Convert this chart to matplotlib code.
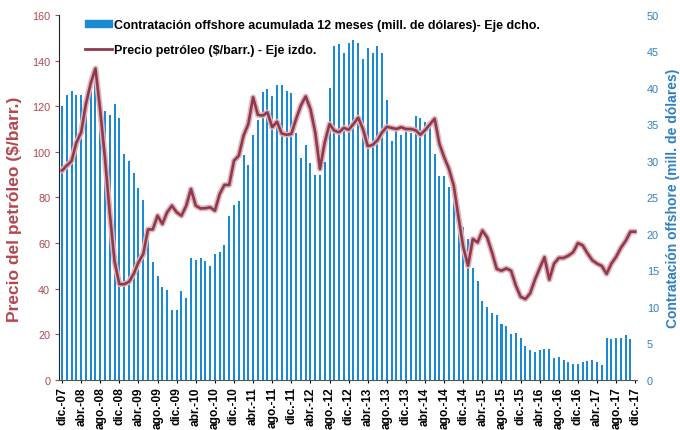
import numpy as np
import matplotlib.pyplot as plt
from matplotlib.patches import Patch
from matplotlib.lines import Line2D

plt.rcParams['font.family'] = ['Liberation Sans', 'DejaVu Sans']

# monthly series, dic.-07 .. dic.-17
tick_labels = ["dic.-07", "abr.-08", "ago.-08", "dic.-08", "abr.-09", "ago.-09",
               "dic.-09", "abr.-10", "ago.-10", "dic.-10", "abr.-11", "ago.-11",
               "dic.-11", "abr.-12", "ago.-12", "dic.-12", "abr.-13", "ago.-13",
               "dic.-13", "abr.-14", "ago.-14", "dic.-14", "abr.-15", "ago.-15",
               "dic.-15", "abr.-16", "ago.-16", "dic.-16", "abr.-17", "ago.-17",
               "dic.-17"]

# contratación offshore acumulada 12 meses (mill. de dólares) - eje dcho.
offshore = [37.5, 39.1, 39.6, 39.1, 39.0, 36.9, 39.9, 41.6, 38.3, 36.8,
            36.3, 37.8, 35.9, 30.9, 30.0, 28.4, 26.3, 24.7, 19.3, 16.2,
            14.2, 12.8, 12.3, 9.6, 9.6, 12.2, 11.2, 16.7, 16.4, 16.7,
            16.3, 15.6, 17.3, 17.6, 18.5, 22.5, 24.0, 24.5, 30.8, 29.4,
            33.6, 35.6, 39.4, 39.9, 38.9, 40.4, 40.4, 39.6, 39.3, 33.8,
            30.4, 32.2, 29.7, 28.1, 28.1, 29.8, 40.0, 45.7, 46.0, 44.8,
            46.2, 46.6, 46.2, 43.9, 45.5, 44.8, 45.8, 44.8, 38.3, 32.7,
            34.3, 33.6, 34.0, 33.8, 36.2, 35.9, 35.3, 35.4, 31.0, 27.9,
            27.9, 26.5, 24.4, 21.5, 20.9, 19.3, 15.3, 13.6, 10.8, 10.0,
            9.2, 8.9, 7.7, 7.4, 6.3, 6.4, 5.8, 4.6, 4.1, 3.8,
            4.1, 4.2, 4.2, 3.0, 3.2, 2.8, 2.4, 2.2, 2.2, 2.4,
            2.6, 2.7, 2.4, 2.1, 5.8, 5.6, 5.7, 5.8, 6.1, 5.6]

# precio petróleo ($/barr.) - eje izdo.
oil = [91.8, 94.0, 96.0, 104.0, 108.5, 121.0, 130.0, 136.5, 118.0, 97.0,
       73.0, 52.0, 42.0, 42.0, 43.0, 46.5, 51.6, 55.2, 66.0, 66.0,
       72.0, 68.4, 73.5, 76.4, 73.5, 72.0, 76.4, 83.7, 76.4, 75.2,
       75.3, 75.7, 74.2, 81.5, 85.5, 85.5, 96.1, 98.3, 107.1, 112.2,
       123.9, 116.2, 115.9, 117.3, 110.8, 113.2, 108.0, 107.5, 107.8, 114.4,
       120.3, 124.3, 118.8, 108.6, 92.5, 104.2, 112.2, 109.3, 108.6, 110.5,
       109.7, 112.2, 115.0, 110.0, 102.5, 103.0, 105.0, 108.5, 111.0, 110.5,
       110.0, 110.8, 110.0, 110.0, 109.5, 107.5, 109.5, 112.0, 114.5, 103.5,
       97.6, 92.5, 85.2, 71.3, 58.2, 50.1, 61.8, 60.3, 65.5, 62.5,
       56.0, 48.7, 47.9, 48.9, 47.9, 41.4, 36.5, 35.5, 38.0, 44.0,
       49.0, 53.8, 44.0, 51.0, 53.5, 53.5, 54.5, 56.0, 60.0, 59.0,
       55.5, 52.5, 51.0, 50.0, 46.5, 51.0, 54.0, 58.0, 61.0, 65.0,
       65.0]

bar_color = '#1a8ad4'
line_color = '#8c3a4c'
red_txt = '#b4474f'
blue_txt = '#2f7fc0'

fig = plt.figure(figsize=(6.8, 4.31), dpi=100)
ax = fig.add_axes([0.087, 0.116, 0.850, 0.847])
ax2 = ax.twinx()

xb = np.arange(len(offshore))
ax2.bar(xb, offshore, width=0.42, color=bar_color, linewidth=0)

xl = np.arange(len(oil))
ax.plot(xl, oil, color='#e2b4bb', lw=4.2, solid_capstyle='round', zorder=2)
ax.plot(xl, oil, color=line_color, lw=1.9, zorder=3)

ax.set_zorder(ax2.get_zorder() + 1)
ax.patch.set_visible(False)

ax.set_xlim(-0.6, 120.4)
ax.set_ylim(0, 160)
ax2.set_ylim(0, 50)
ax.set_yticks(np.arange(0, 161, 20))
ax2.set_yticks(np.arange(0, 51, 5))
ax.set_xticks(np.arange(0, 121, 4))
ax.set_xticklabels(tick_labels, rotation=90, fontsize=8.6, fontweight='bold')

ax.tick_params(axis='y', colors=red_txt, labelsize=7.8, length=3)
ax.tick_params(axis='x', length=2.5, pad=2)
ax2.tick_params(axis='y', colors=blue_txt, labelsize=7.8, length=0, pad=7)

for a in (ax, ax2):
    a.spines['top'].set_visible(False)
    a.spines['right'].set_visible(False)
ax2.spines['left'].set_visible(False)
ax2.spines['bottom'].set_visible(False)
ax.spines['left'].set_color('#222222')
ax.spines['bottom'].set_color('#555555')

ax.set_ylabel('Precio del petróleo ($/barr.)', color=red_txt, fontsize=12.5,
              fontweight='bold')
ax.yaxis.set_label_coords(-0.064, 0.47)
ax2.set_ylabel('Contratación offshore (mill. de dólares)', color=blue_txt,
               fontsize=10, fontweight='bold', labelpad=5)

handles = [Patch(color=bar_color),
           Line2D([], [], color=line_color, lw=2)]
labels = ['Contratación offshore acumulada 12 meses (mill. de dólares)- Eje dcho.',
          'Precio petróleo ($/barr.) - Eje izdo.']
ax.legend(handles, labels, loc='upper left', bbox_to_anchor=(0.025, 1.02),
          frameon=False, prop={'size': 9, 'weight': 'bold'},
          handlelength=2.2, handleheight=0.5, handletextpad=0.15,
          labelspacing=1.05)

fig.savefig('out.png', dpi=100)
